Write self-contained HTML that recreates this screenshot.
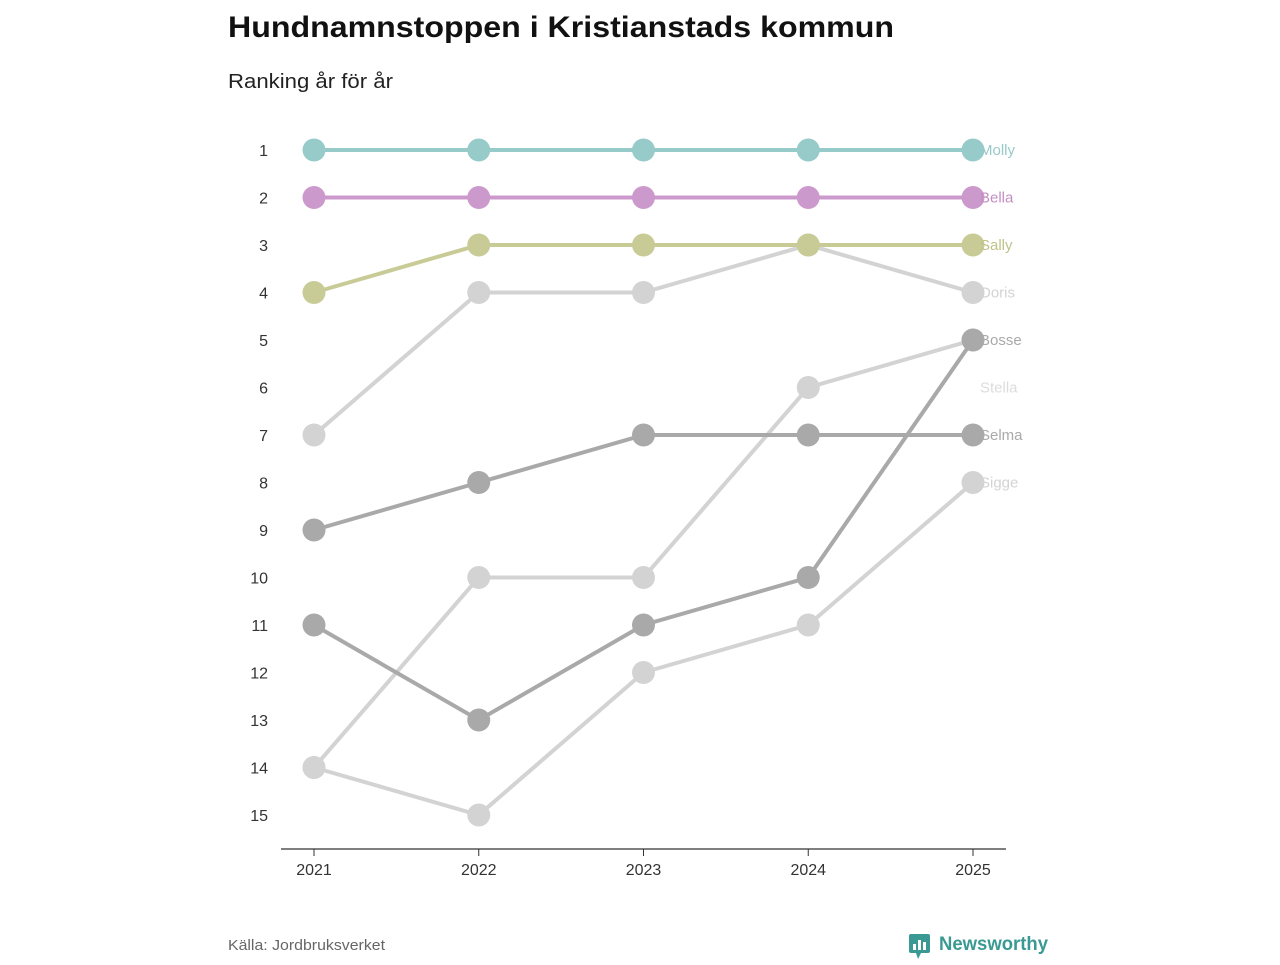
<!DOCTYPE html>
<html><head><meta charset="utf-8"><style>
body{margin:0;width:1280px;height:960px;background:#fff;font-family:"Liberation Sans",sans-serif;overflow:hidden}
</style></head><body>
<svg width="1280" height="960">
<text x="228" y="37" font-size="30" font-weight="bold" fill="#111" textLength="666" lengthAdjust="spacingAndGlyphs">Hundnamnstoppen i Kristianstads kommun</text>
<text x="228" y="88" font-size="20" fill="#222" textLength="165" lengthAdjust="spacingAndGlyphs">Ranking år för år</text>
<g id="plot"></g>
<text x="228" y="950" font-size="15" fill="#666" textLength="157" lengthAdjust="spacingAndGlyphs">Källa: Jordbruksverket</text>
<g>
<rect x="909" y="934" width="21" height="19" rx="2" fill="#3a9a93"/>
<polygon points="916,953 921,953 918,959" fill="#3a9a93"/>
<rect x="913" y="944" width="3" height="6" fill="#fff"/><rect x="918" y="940" width="3" height="10" fill="#fff"/><rect x="923" y="942" width="3" height="8" fill="#fff"/>
<text x="939" y="950" font-size="19" font-weight="bold" fill="#3a9a93" textLength="109" lengthAdjust="spacingAndGlyphs">Newsworthy</text>
</g>
</svg>
<script>
const years=[2021,2022,2023,2024,2025];
const names=["Sigge","Stella","Selma","Bosse","Doris","Sally","Bella","Molly"];
const ranks=[[14,15,12,11,8],[14,10,10,6,5],[9,8,7,7,7],[11,13,11,10,5],[7,4,4,3,4],[4,3,3,3,3],[2,2,2,2,2],[1,1,1,1,1]];
const labelRanks=[8,6,7,5,4,3,2,1];
const colors=["#d3d3d3","#d3d3d3","#a9a9a9","#a9a9a9","#d3d3d3","#c9cb96","#cc99cc","#96cbc9"];
const labelColors=["#d3d3d3","#dcdcdc","#a9a9a9","#a9a9a9","#d3d3d3","#c0c28a","#c38fc3","#96cbc9"];
const rankTicks=[1,2,3,4,5,6,7,8,9,10,11,12,13,14,15];
const xS=y=>314+(y-2021)*164.75;
const yS=r=>150+(r-1)*47.5;
const NS="http://www.w3.org/2000/svg";
const g=document.getElementById('plot');
function el(t,a){const e=document.createElementNS(NS,t);for(const k in a)e.setAttribute(k,a[k]);g.appendChild(e);return e;}
rankTicks.forEach(r=>{const t=el('text',{x:268,y:yS(r)+6,'font-size':16,fill:'#333','text-anchor':'end'});t.textContent=r;

});
const ax=el('line',{x1:281,x2:1006,y1:849,y2:849,stroke:'#333','stroke-width':1.2});


years.forEach(y=>{el('line',{x1:xS(y),x2:xS(y),y1:849,y2:856,stroke:'#333'});
const t=el('text',{x:xS(y),y:875,'font-size':16,fill:'#333','text-anchor':'middle'});t.textContent=y;

});
names.forEach((n,i)=>{
const p=el('polyline',{points:ranks[i].map((r,j)=>xS(years[j])+','+yS(r)).join(' '),fill:'none',stroke:colors[i],'stroke-width':4});


ranks[i].forEach((r,j)=>{const c=el('circle',{cx:xS(years[j]),cy:yS(r),r:11.5,fill:colors[i]});

});
});
names.forEach((n,i)=>{
const t=el('text',{x:980,y:yS(labelRanks[i])+5,'font-size':15,fill:labelColors[i]});t.textContent=n;


});
</script>
</body></html>
